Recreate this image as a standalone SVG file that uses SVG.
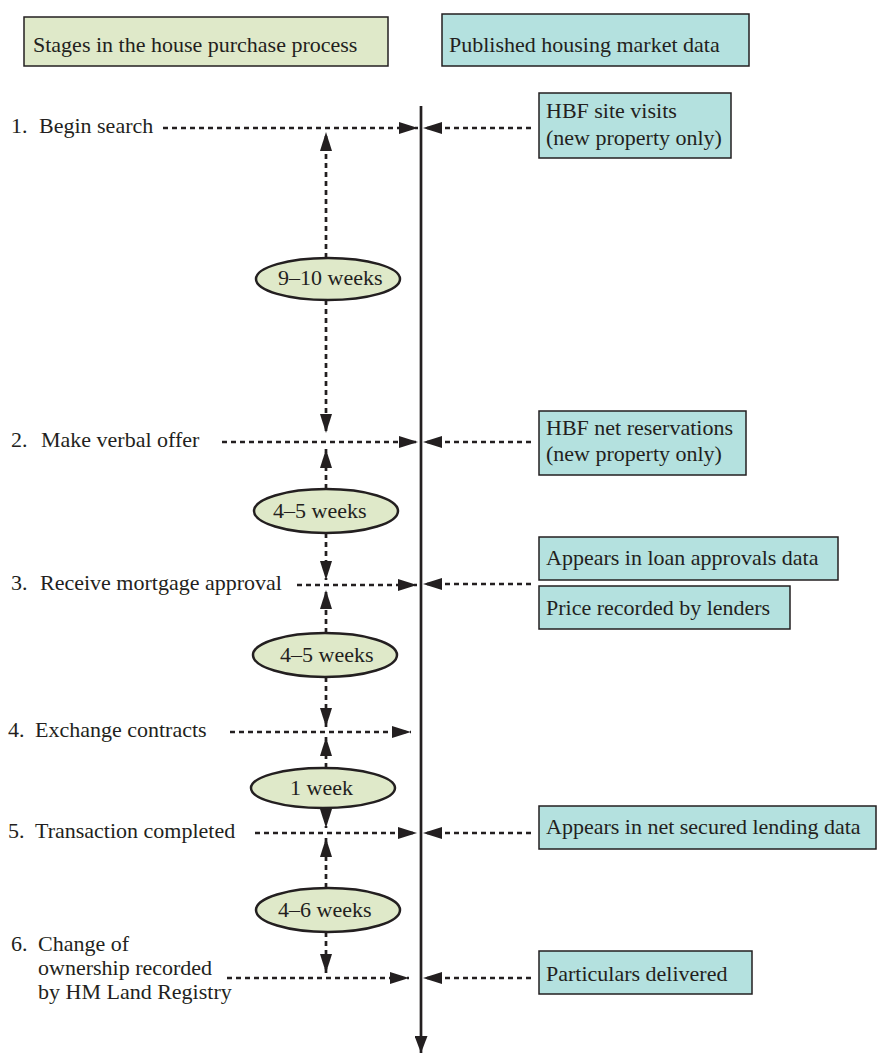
<svg xmlns="http://www.w3.org/2000/svg" width="877" height="1055" viewBox="0 0 877 1055">
<defs>
<style>
text{font-family:"Liberation Serif","Times New Roman",serif;font-size:22px;fill:#231f20}
.g{fill:#dfe9c9;stroke:#231f20;stroke-width:1.5}
.t{fill:#b4e1df;stroke:#231f20;stroke-width:1.5}
.e{fill:#dfe9c9;stroke:#231f20;stroke-width:2.5}
.d{fill:none;stroke:#231f20;stroke-width:2.7;stroke-dasharray:5 4;marker-end:url(#ah)}
.main{fill:none;stroke:#231f20;stroke-width:2.7;marker-end:url(#mh)}
</style>
<marker id="ah" markerUnits="userSpaceOnUse" markerWidth="19" markerHeight="12" refX="19" refY="6" orient="auto">
<path d="M0,0 L19,6 L0,12 Z" fill="#231f20"/>
</marker>
<marker id="mh" markerUnits="userSpaceOnUse" markerWidth="17" markerHeight="13" refX="17" refY="6.5" orient="auto">
<path d="M0,0 L17,6.5 L0,13 Z" fill="#231f20"/>
</marker>
</defs>
<rect width="877" height="1055" fill="#ffffff"/>

<g id="header-stages">
<rect class="g" x="24" y="17" width="364" height="49"/>
<text x="33" y="52">Stages in the house purchase process</text>
</g>
<g id="header-data">
<rect class="t" x="442" y="14" width="307" height="52"/>
<text x="449" y="52">Published housing market data</text>
</g>

<g id="connectors">
<path class="main" d="M421,106 V1053"/>
<path class="d" d="M163,128 H418"/>
<path class="d" d="M222,442 H418"/>
<path class="d" d="M297,585 H417"/>
<path class="d" d="M230,732 H411"/>
<path class="d" d="M255,833 H417"/>
<path class="d" d="M227,978 H409"/>
<path class="d" d="M531,128 H423"/>
<path class="d" d="M531,442 H423"/>
<path class="d" d="M531,584 H423"/>
<path class="d" d="M531,833 H423"/>
<path class="d" d="M531,978 H423"/>
<path class="d" d="M326,258 V132"/>
<path class="d" d="M326,300 V433"/>
<path class="d" d="M326,489 V449"/>
<path class="d" d="M326,533 V580"/>
<path class="d" d="M326,633 V590"/>
<path class="d" d="M326,677 V727"/>
<path class="d" d="M326,768 V737"/>
<path class="d" d="M326,808 V828"/>
<path class="d" d="M326,888 V838"/>
<path class="d" d="M326,932 V973"/>
</g>

<g id="stage1"><text x="11" y="133">1.<tspan x="39">Begin search</tspan></text></g>
<g id="stage2"><text x="11" y="447">2.<tspan x="41">Make verbal offer</tspan></text></g>
<g id="stage3"><text x="11" y="590">3.<tspan x="40">Receive mortgage approval</tspan></text></g>
<g id="stage4"><text x="8" y="737">4.<tspan x="35">Exchange contracts</tspan></text></g>
<g id="stage5"><text x="8" y="838">5.<tspan x="35">Transaction completed</tspan></text></g>
<g id="stage6">
<text x="11" y="951">6.<tspan x="38">Change of</tspan></text>
<text x="38" y="975">ownership recorded</text>
<text x="38" y="999">by HM Land Registry</text>
</g>

<g id="dur1"><ellipse class="e" cx="328" cy="279" rx="72" ry="21"/><text x="278" y="285">9–10 weeks</text></g>
<g id="dur2"><ellipse class="e" cx="326" cy="511" rx="72" ry="22"/><text x="273" y="518">4–5 weeks</text></g>
<g id="dur3"><ellipse class="e" cx="325" cy="655" rx="72" ry="22"/><text x="280" y="662">4–5 weeks</text></g>
<g id="dur4"><ellipse class="e" cx="323" cy="788" rx="72" ry="20"/><text x="290" y="795">1 week</text></g>
<g id="dur5"><ellipse class="e" cx="328" cy="910" rx="72" ry="22"/><text x="278" y="917">4–6 weeks</text></g>

<g id="data-site-visits">
<rect class="t" x="539" y="93" width="192" height="65"/>
<text x="546" y="118">HBF site visits</text>
<text x="546" y="145">(new property only)</text>
</g>
<g id="data-net-reservations">
<rect class="t" x="539" y="411" width="207" height="64"/>
<text x="546" y="435">HBF net reservations</text>
<text x="546" y="461">(new property only)</text>
</g>
<g id="data-loan-approvals">
<rect class="t" x="539" y="537" width="299" height="43"/>
<text x="546" y="565">Appears in loan approvals data</text>
</g>
<g id="data-price-lenders">
<rect class="t" x="539" y="586" width="251" height="43"/>
<text x="546" y="615">Price recorded by lenders</text>
</g>
<g id="data-net-secured">
<rect class="t" x="539" y="806" width="337" height="43"/>
<text x="546" y="834">Appears in net secured lending data</text>
</g>
<g id="data-particulars">
<rect class="t" x="539" y="951" width="213" height="43"/>
<text x="546" y="981">Particulars delivered</text>
</g>
</svg>
